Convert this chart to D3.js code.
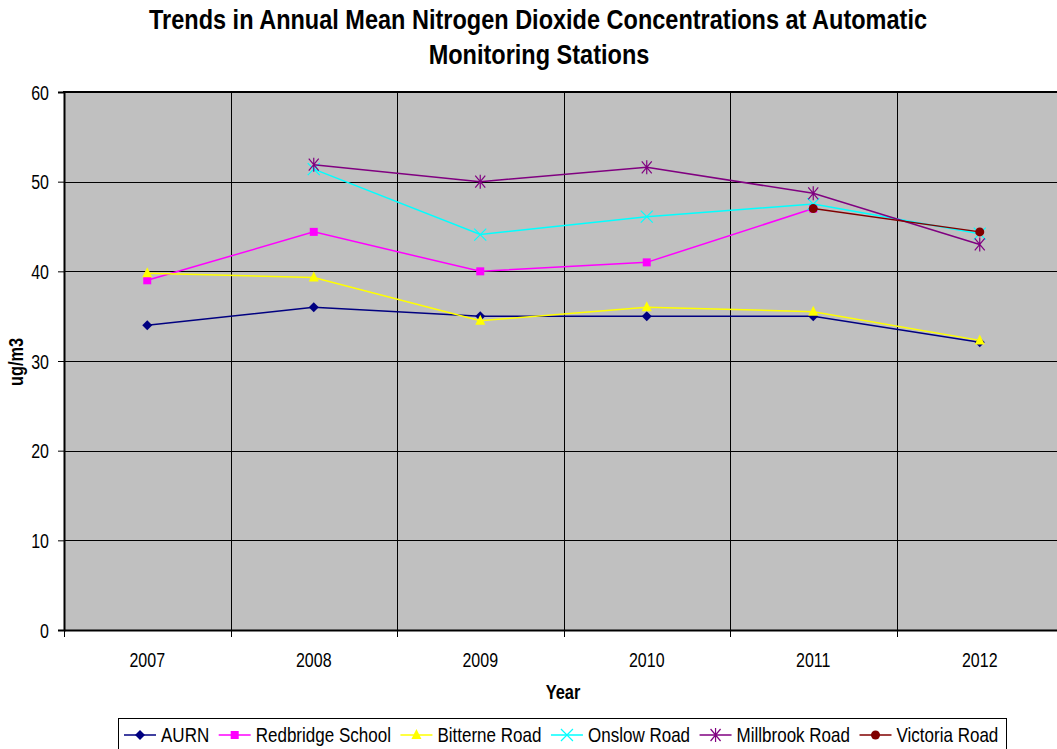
<!DOCTYPE html>
<html>
<head>
<meta charset="utf-8">
<script src="https://cdn.jsdelivr.net/npm/d3@7"></script>
<style>
  body { margin: 0; background: #fff; }
  text { font-family: 'Liberation Sans', Arial, sans-serif; }
</style>
</head>
<body>
<div id="chart"></div>
<script>
// Data
const years = ['2007', '2008', '2009', '2010', '2011', '2012']
const yTicks = [0, 10, 20, 30, 40, 50, 60]

const aurn = [34.0, 36.0, 35.0, 35.0, 35.0, 32.1]
const redbridge = [39.0, 44.4, 40.0, 41.0, 47.0, null]
const bitterne = [39.8, 39.3, 34.5, 36.0, 35.5, 32.3]
const onslow = [null, 51.4, 44.1, 46.1, 47.5, 44.2]
const millbrook = [null, 51.9, 50.0, 51.6, 48.7, 43.0]
const victoria = [null, null, null, null, 47.0, 44.4]

const series = [
  { name: 'AURN', values: aurn, color: '#000080', marker: 'diamond' },
  { name: 'Redbridge School', values: redbridge, color: '#FF00FF', marker: 'square' },
  { name: 'Bitterne Road', values: bitterne, color: '#FFFF00', marker: 'triangle' },
  { name: 'Onslow Road', values: onslow, color: '#00FFFF', marker: 'cross' },
  { name: 'Millbrook Road', values: millbrook, color: '#800080', marker: 'star' },
  { name: 'Victoria Road', values: victoria, color: '#800000', marker: 'circle' }
]

// Layout
const W = 1057
const H = 749
const plotLeft = 64
const plotRight = 1063
const plotTop = 92
const plotBottom = 630
const squeeze = 0.82 // text in the original is horizontally condensed

const svg = d3.select('#chart').append('svg')
  .attr('width', W)
  .attr('height', H)

// Condensed text helper
function label(x, y, str, size, bold, anchor, sx) {
  const k = sx || squeeze
  const g = svg.append('g').attr('transform', `translate(${x},${y}) scale(${k},1)`)
  const t = g.append('text')
    .attr('text-anchor', anchor || 'start')
    .attr('font-size', size)
    .attr('font-weight', bold ? 'bold' : 'normal')
    .attr('fill', '#000')
    .text(str)
  return t
}

// Scales
const x = d3.scaleBand().domain(years).range([plotLeft, plotRight])
const y = d3.scaleLinear().domain([0, 60]).range([plotBottom, plotTop])

// Plot background
svg.append('rect')
  .attr('x', plotLeft)
  .attr('y', plotTop)
  .attr('width', plotRight - plotLeft)
  .attr('height', plotBottom - plotTop)
  .attr('fill', '#C0C0C0')

// Horizontal grid
svg.append('g')
  .selectAll('line')
  .data(yTicks)
  .enter()
  .append('line')
  .attr('x1', plotLeft)
  .attr('x2', plotRight)
  .attr('y1', d => Math.round(y(d)) + 0.5)
  .attr('y2', d => Math.round(y(d)) + 0.5)
  .attr('stroke', '#000')
  .attr('stroke-width', 1)

// Vertical grid at category boundaries
svg.append('g')
  .selectAll('line')
  .data(years)
  .enter()
  .append('line')
  .attr('x1', d => Math.round(x(d)) + 0.5)
  .attr('x2', d => Math.round(x(d)) + 0.5)
  .attr('y1', plotTop)
  .attr('y2', plotBottom)
  .attr('stroke', '#000')
  .attr('stroke-width', 1)

// Y axis
const yAxis = d3.axisLeft(y).tickValues(yTicks).tickSize(6).tickPadding(6)
const gy = svg.append('g')
  .attr('transform', `translate(${plotLeft},0)`)
  .call(yAxis)
gy.select('.domain').attr('stroke', '#000').attr('stroke-width', 2)
gy.selectAll('.tick line').attr('stroke', '#000')
gy.selectAll('text')
  .attr('font-size', 19.5)
  .attr('fill', '#000')
  .attr('x', -15 / squeeze)
  .attr('dy', '0.36em')
  .attr('transform', `scale(${squeeze},1)`)

// X axis
const xAxis = d3.axisBottom(x).tickSize(0).tickPadding(22)
const gx = svg.append('g')
  .attr('transform', `translate(0,${plotBottom})`)
  .call(xAxis)
gx.select('.domain').attr('stroke', '#000').attr('stroke-width', 2)
gx.selectAll('text')
  .attr('font-size', 19.5)
  .attr('fill', '#000')
  .attr('y', 37)
  .attr('dy', 0)
  .attr('transform', `scale(${squeeze},1)`)

// X ticks at category boundaries
gx.selectAll('.bound')
  .data(years)
  .enter()
  .append('line')
  .attr('class', 'bound')
  .attr('x1', d => Math.round(x(d)) + 0.5)
  .attr('x2', d => Math.round(x(d)) + 0.5)
  .attr('y1', 0)
  .attr('y2', 7)
  .attr('stroke', '#000')

// Top border
svg.append('line')
  .attr('x1', plotLeft - 1)
  .attr('x2', plotRight)
  .attr('y1', plotTop)
  .attr('y2', plotTop)
  .attr('stroke', '#000')
  .attr('stroke-width', 2)

// Lines
const line = d3.line()
  .defined(d => d != null)
  .x((d, i) => x(years[i]) + x.bandwidth() / 2)
  .y(d => y(d))

function drawMarker(g, type, color) {
  if (type === 'diamond') {
    g.append('path').attr('d', 'M0,-5L5,0L0,5L-5,0Z').attr('fill', color)
  } else if (type === 'square') {
    g.append('rect').attr('x', -4).attr('y', -4).attr('width', 8).attr('height', 8).attr('fill', color)
  } else if (type === 'triangle') {
    g.append('path').attr('d', 'M0,-6L5,4L-5,4Z').attr('fill', color)
  } else if (type === 'cross') {
    g.append('path').attr('d', 'M-6,-6L6,6M-6,6L6,-6').attr('stroke', color).attr('stroke-width', 1.2)
  } else if (type === 'star') {
    g.append('path').attr('d', 'M-5,-6L5,6M-5,6L5,-6M0,-7L0,7').attr('stroke', color).attr('stroke-width', 1.2)
  } else if (type === 'circle') {
    g.append('circle').attr('r', 4.5).attr('fill', color)
  }
}

series.forEach(s => {
  svg.append('path')
    .datum(s.values)
    .attr('d', line)
    .attr('fill', 'none')
    .attr('stroke', s.color)
    .attr('stroke-width', 1.5)

  s.values.forEach((v, i) => {
    if (v == null) return
    const g = svg.append('g')
      .attr('transform', `translate(${x(years[i]) + x.bandwidth() / 2},${y(v)})`)
    drawMarker(g, s.marker, s.color)
  })
})

// Title
label(538, 29, 'Trends in Annual Mean Nitrogen Dioxide Concentrations at Automatic', 28, true, 'middle', 0.84)
label(539, 64, 'Monitoring Stations', 28, true, 'middle', 0.84)

// Axis titles
label(563, 699, 'Year', 20, true, 'middle')

svg.append('g')
  .attr('transform', `translate(23,362) rotate(-90) scale(${squeeze},1)`)
  .append('text')
  .attr('text-anchor', 'middle')
  .attr('font-size', 20)
  .attr('font-weight', 'bold')
  .text('ug/m3')

// Legend
svg.append('rect')
  .attr('x', 118.5)
  .attr('y', 718.5)
  .attr('width', 888)
  .attr('height', 40)
  .attr('fill', '#fff')
  .attr('stroke', '#000')

let lx = 124
series.forEach(s => {
  const g = svg.append('g').attr('transform', `translate(${lx},735)`)
  g.append('line').attr('x1', 0).attr('x2', 32).attr('stroke', s.color).attr('stroke-width', 1.5)
  const m = g.append('g').attr('transform', 'translate(16,0)')
  drawMarker(m, s.marker, s.color)
  const t = label(lx + 37, 742, s.name, 20.75, false, 'start')
  lx += 37 + t.node().getComputedTextLength() * squeeze + 9.5
})
</script>
</body>
</html>
